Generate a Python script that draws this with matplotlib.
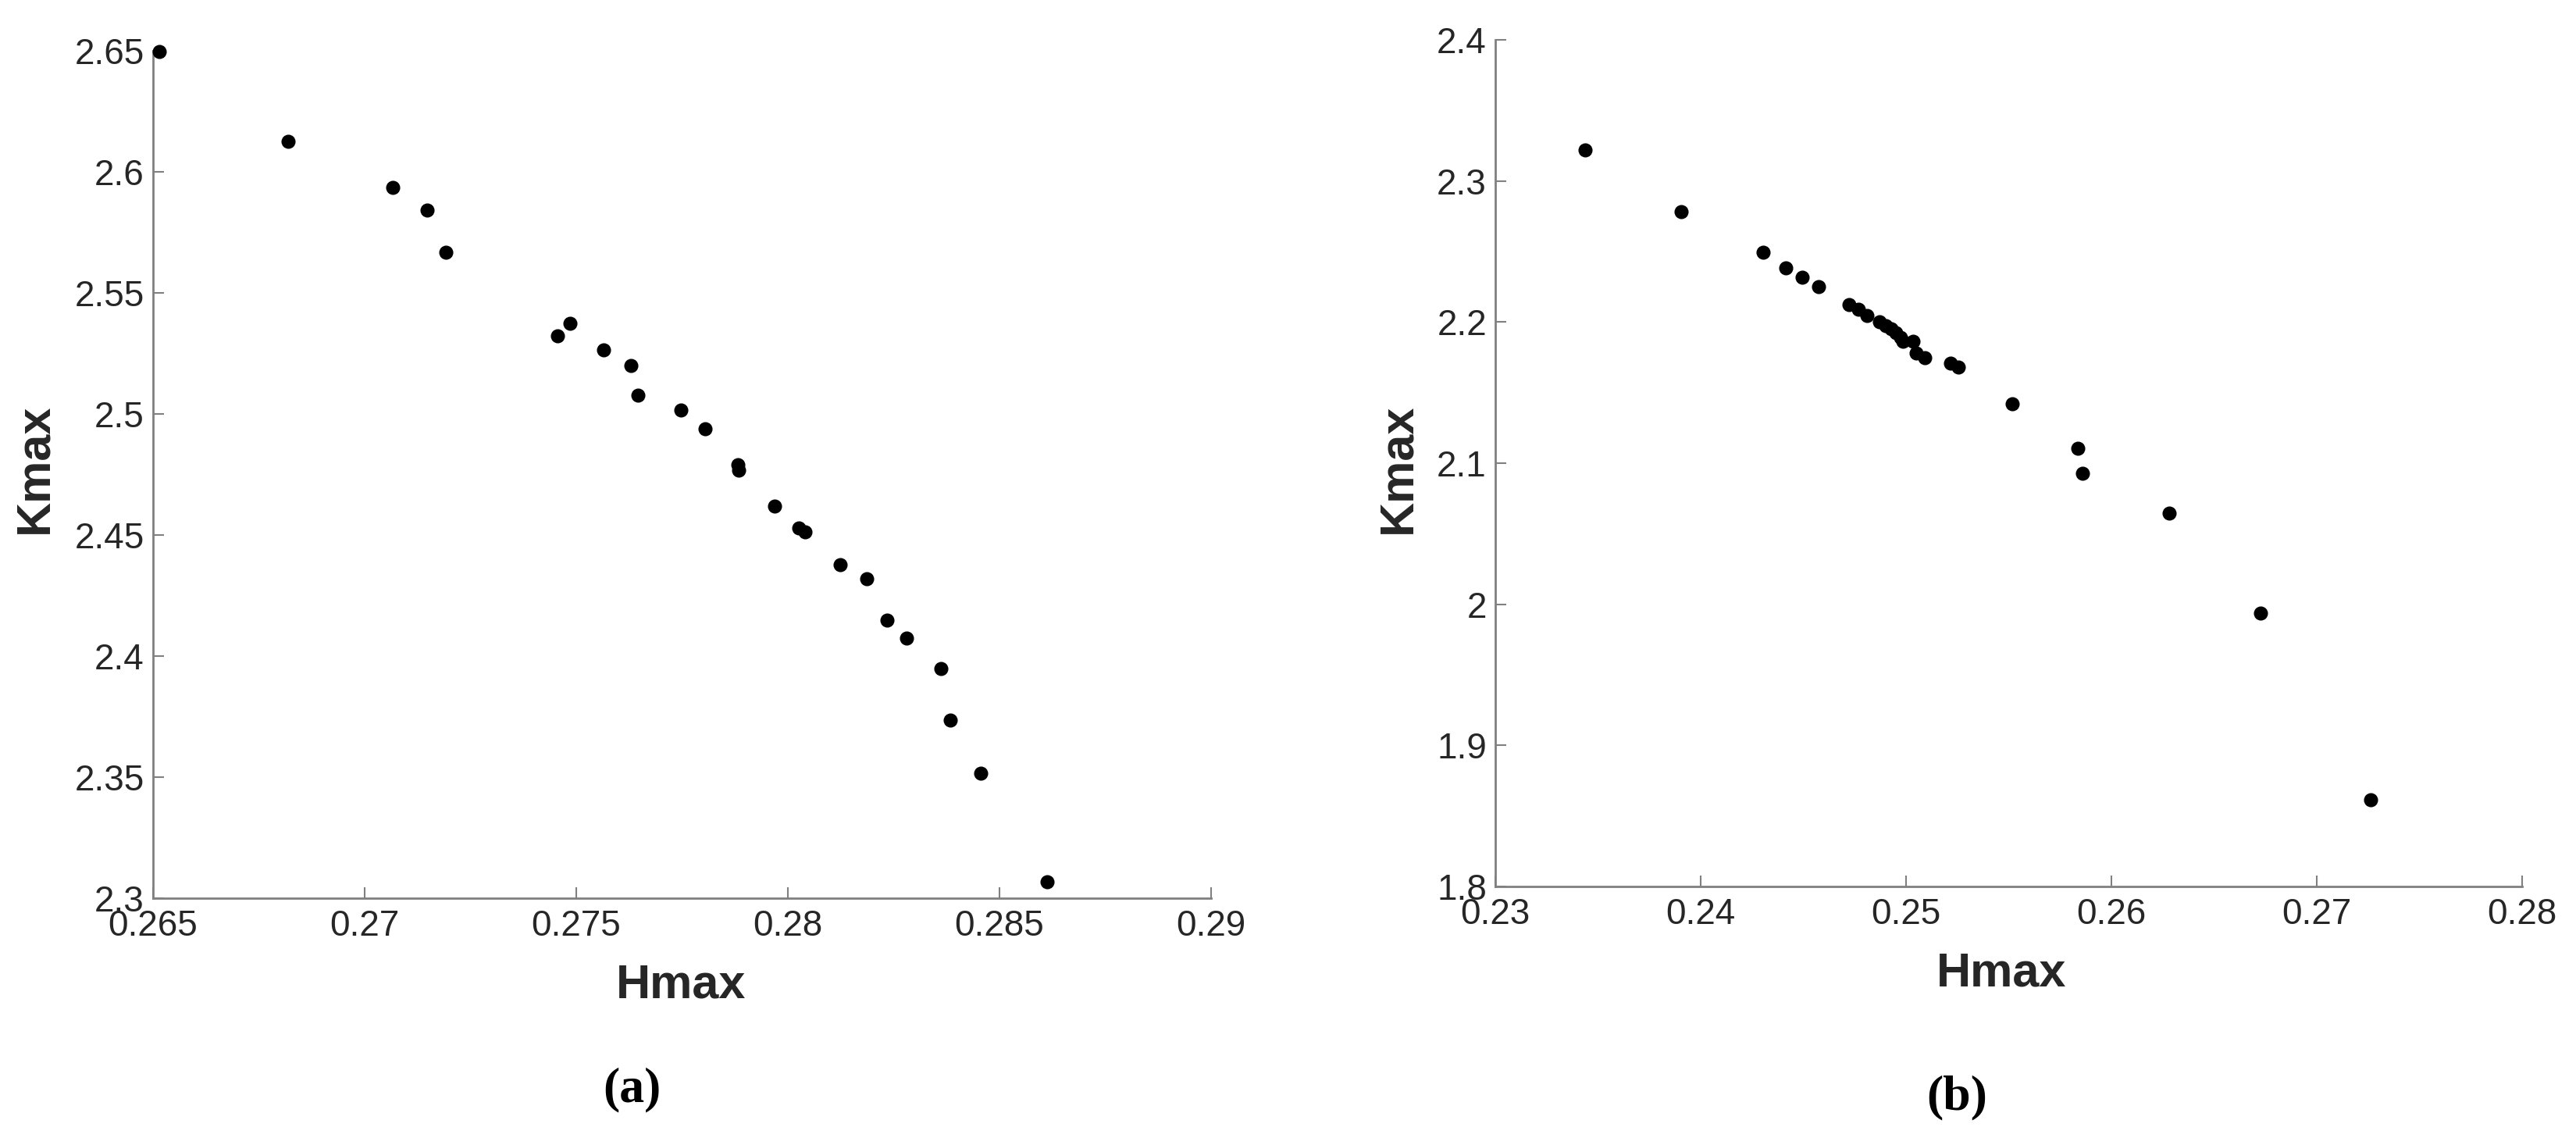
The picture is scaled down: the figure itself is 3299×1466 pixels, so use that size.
import matplotlib
matplotlib.use("Agg")
import matplotlib.pyplot as plt

# Panel (a)
hmax_a = [0.26514, 0.26819, 0.27067, 0.27148, 0.27191, 0.27455, 0.27486, 0.27564,
          0.27629, 0.27646, 0.27747, 0.27804, 0.27881, 0.27883, 0.27968, 0.28025,
          0.28040, 0.28123, 0.28187, 0.28235, 0.28280, 0.28362, 0.28384, 0.28456, 0.28612]
kmax_a = [2.6497, 2.6127, 2.5936, 2.5843, 2.5667, 2.5324, 2.5375, 2.5265,
          2.5201, 2.5078, 2.5017, 2.4940, 2.4789, 2.4769, 2.4620, 2.4528,
          2.4513, 2.4379, 2.4320, 2.4149, 2.4074, 2.3947, 2.3734, 2.3515, 2.3068]

# Panel (b)
hmax_b = [0.23436, 0.23904, 0.24304, 0.24415, 0.24495, 0.24573, 0.24721, 0.24767,
          0.24808, 0.24871, 0.24903, 0.24927, 0.24951, 0.24973, 0.24983, 0.25033,
          0.25048, 0.25092, 0.25215, 0.25256, 0.25518, 0.25836, 0.25858, 0.26281,
          0.26725, 0.27261]
kmax_b = [2.3218, 2.2784, 2.2496, 2.2386, 2.2315, 2.2253, 2.2123, 2.2092,
          2.2044, 2.2002, 2.1973, 2.1951, 2.1925, 2.1889, 2.1866, 2.1861,
          2.1779, 2.1745, 2.1711, 2.1680, 2.1423, 2.1104, 2.0926, 2.0648,
          1.9935, 1.8615]

xticks_a = [0.265, 0.27, 0.275, 0.28, 0.285, 0.29]
xlabels_a = ["0.265", "0.27", "0.275", "0.28", "0.285", "0.29"]
yticks_a = [2.3, 2.35, 2.4, 2.45, 2.5, 2.55, 2.6, 2.65]
ylabels_a = ["2.3", "2.35", "2.4", "2.45", "2.5", "2.55", "2.6", "2.65"]
xticks_b = [0.23, 0.24, 0.25, 0.26, 0.27, 0.28]
xlabels_b = ["0.23", "0.24", "0.25", "0.26", "0.27", "0.28"]
yticks_b = [1.8, 1.9, 2.0, 2.1, 2.2, 2.3, 2.4]
ylabels_b = ["1.8", "1.9", "2", "2.1", "2.2", "2.3", "2.4"]

W, H = 3299, 1466
fig = plt.figure(figsize=(W / 100, H / 100), dpi=100)

def box(l, r, t, b):
    return [l / W, 1 - b / H, (r - l) / W, (b - t) / H]

ax_a = fig.add_axes(box(196, 1551, 65, 1150))
ax_b = fig.add_axes(box(1915, 3230, 51, 1135))

tc = "#262626"
for ax, x, y, xt, xl, yt, yl in [
    (ax_a, hmax_a, kmax_a, xticks_a, xlabels_a, yticks_a, ylabels_a),
    (ax_b, hmax_b, kmax_b, xticks_b, xlabels_b, yticks_b, ylabels_b),
]:
    ax.plot(x, y, "o", color="black", markersize=12, clip_on=False, zorder=3)
    ax.set_xlim(xt[0], xt[-1])
    ax.set_ylim(yt[0], yt[-1])
    ax.set_xticks(xt)
    ax.set_xticklabels(xl, family="Liberation Sans", fontsize=33, color=tc)
    ax.set_yticks(yt)
    ax.set_yticklabels(yl, family="Liberation Sans", fontsize=33, color=tc)
    for s in ["top", "right"]:
        ax.spines[s].set_visible(False)
    for s in ["left", "bottom"]:
        ax.spines[s].set_color("#808080")
        ax.spines[s].set_linewidth(2)
    ax.tick_params(direction="in", length=10, width=1.5, color="#808080")
    ax.tick_params(axis="x", pad=10)
    ax.tick_params(axis="y", pad=8)

# axis labels
fig.text(872 / W, 1 - 1262 / H, "Hmax", family="Liberation Sans", weight="bold",
         fontsize=44, color=tc, ha="center", va="center")
fig.text(45 / W, 1 - 600 / H, "Kmax", family="Liberation Sans", weight="bold",
         fontsize=44, color=tc, ha="center", va="center", rotation=90)
fig.text(2563 / W, 1 - 1247 / H, "Hmax", family="Liberation Sans", weight="bold",
         fontsize=44, color=tc, ha="center", va="center")
fig.text(1791 / W, 1 - 600 / H, "Kmax", family="Liberation Sans", weight="bold",
         fontsize=44, color=tc, ha="center", va="center", rotation=90)

# captions
fig.text(809 / W, 1 - 1395 / H, "(a)", family="Liberation Serif", fontsize=46,
         weight="bold", ha="center", va="center", color="black")
fig.text(2506 / W, 1 - 1405 / H, "(b)", family="Liberation Serif", fontsize=46,
         weight="bold", ha="center", va="center", color="black")

fig.savefig("out.png", dpi=100)
